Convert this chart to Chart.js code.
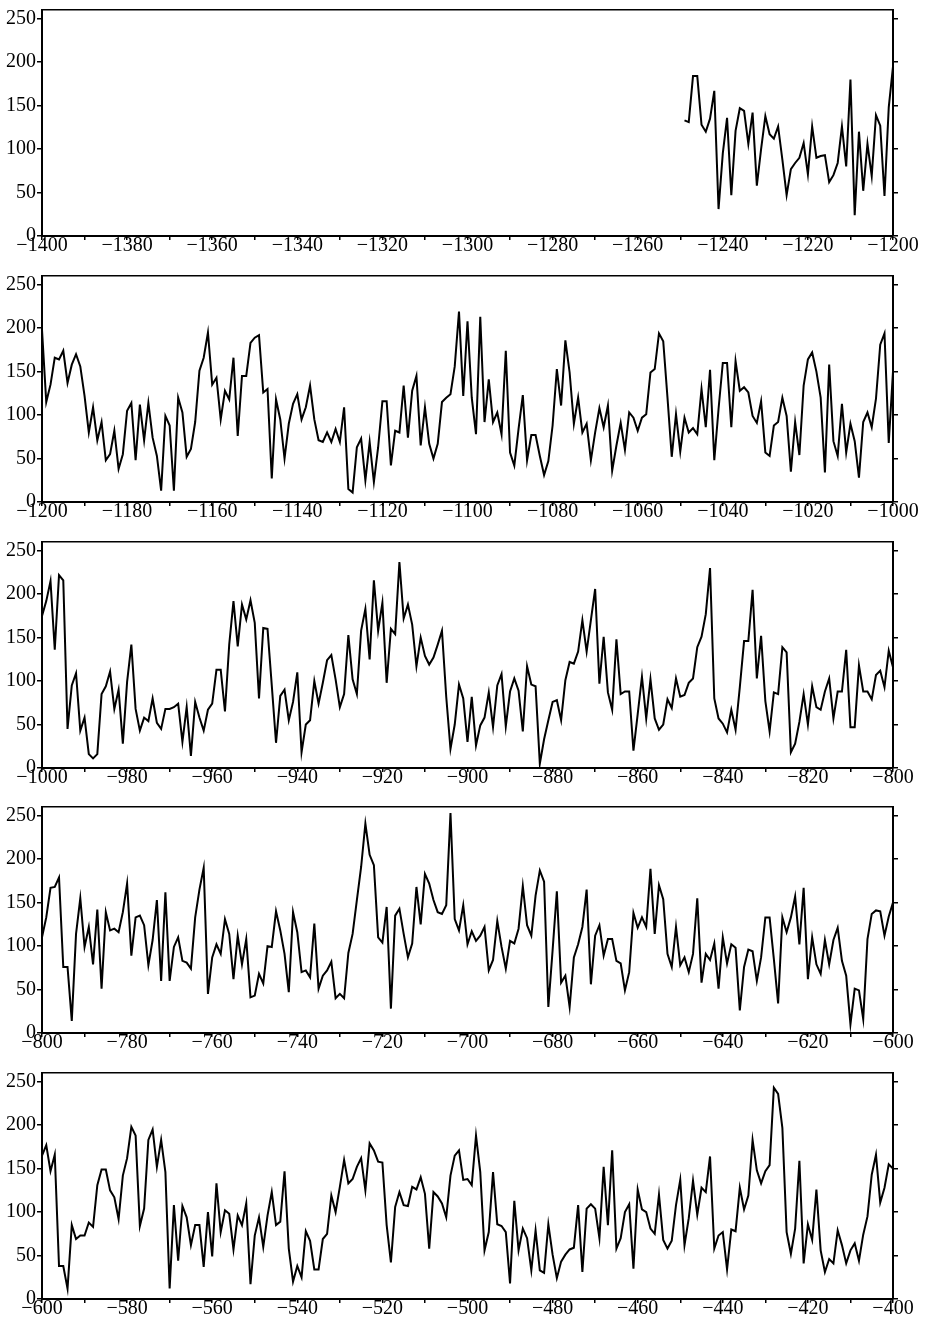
<!DOCTYPE html>
<html>
<head>
<meta charset="utf-8">
<script src="https://cdn.jsdelivr.net/npm/chart.js@4/dist/chart.umd.min.js"></script>
<style>
  html, body { margin: 0; padding: 0; background: #fff; overflow: hidden; }
  #wrap { position: relative; width: 930px; height: 1325px; }
  canvas { position: absolute; left: 0; }
</style>
</head>
<body>
<div id="wrap"></div>
<script>
// each panel covers 200 years; values are read per year off the picture
const panelStarts = [-1400, -1200, -1000, -800, -600];
const firstYears = [-1249, -1200, -1000, -800, -600];
const yMax = 260;
const yStep = 50;
const xStep = 10;
const labelEvery = 20;

const values1 = [
  133, 131, 184, 184, 128, 120, 135, 167, 31, 95,
  136, 47, 121, 147, 144, 106, 142, 58, 100, 138,
  117, 112, 126, 88, 47, 77, 84, 90, 107, 71,
  126, 90, 92, 93, 62, 70, 84, 126, 80, 180,
  24, 120, 52, 106, 69, 139, 127, 46, 148, 195
];

const values2 = [
  198, 115, 135, 166, 164, 174, 137, 158, 170, 156,
  122, 80, 109, 71, 92, 48, 55, 82, 38, 55,
  105, 114, 48, 112, 71, 114, 74, 53, 13, 99,
  88, 13, 120, 103, 52, 61, 92, 151, 166, 195,
  135, 143, 95, 128, 118, 166, 76, 145, 145, 183,
  189, 192, 126, 130, 27, 118, 95, 50, 90, 113,
  124, 95, 109, 134, 95, 71, 69, 80, 69, 84,
  69, 109, 15, 11, 63, 73, 25, 69, 23, 63,
  116, 116, 42, 82, 80, 134, 74, 128, 145, 65,
  109, 67, 50, 67, 115, 120, 124, 156, 219, 122,
  208, 120, 78, 213, 92, 141, 92, 103, 78, 174,
  57, 42, 84, 123, 48, 77, 77, 53, 31, 47,
  88, 153, 111, 186, 149, 90, 120, 80, 90, 48,
  80, 108, 86, 111, 36, 65, 91, 60, 103, 97,
  82, 97, 101, 149, 153, 194, 185, 120, 52, 101,
  58, 97, 80, 85, 78, 130, 86, 152, 48, 107,
  160, 160, 86, 162, 128, 132, 126, 99, 91, 116,
  57, 53, 88, 92, 120, 99, 35, 92, 54, 134,
  164, 172, 150, 120, 34, 158, 70, 53, 113, 57,
  90, 70, 28, 92, 103, 86, 119, 181, 194, 68,
  150
];

const values3 = [
  175, 192, 215, 136, 222, 216, 45, 95, 109, 43,
  58, 16, 11, 16, 85, 94, 111, 68, 90, 28,
  99, 142, 68, 43, 58, 54, 80, 52, 45, 68,
  68, 70, 74, 30, 70, 14, 76, 58, 43, 67,
  74, 113, 113, 65, 142, 192, 140, 188, 171, 193,
  167, 80, 161, 160, 95, 29, 83, 90, 55, 76,
  110, 18, 50, 55, 100, 74, 98, 124, 130, 102,
  70, 85, 153, 102, 85, 158, 183, 125, 216, 158,
  190, 98, 160, 154, 237, 172, 188, 165, 117, 150,
  129, 119, 127, 142, 158, 82, 22, 50, 96, 80,
  30, 82, 26, 49, 58, 87, 47, 95, 108, 48,
  88, 103, 89, 42, 117, 96, 94, 5, 33, 55,
  76, 78, 55, 101, 122, 120, 134, 170, 134, 170,
  206, 97, 151, 87, 67, 148, 85, 88, 88, 20,
  62, 105, 57, 102, 57, 44, 50, 79, 69, 103,
  82, 84, 98, 103, 139, 151, 177, 230, 80, 57,
  51, 41, 67, 44, 93, 146, 146, 205, 103, 152,
  77, 42, 87, 85, 139, 133, 18, 28, 53, 85,
  50, 94, 70, 67, 88, 103, 57, 88, 88, 136,
  47, 47, 118, 88, 88, 79, 107, 112, 93, 135,
  116
];

const values4 = [
  110, 133, 167, 168, 179, 76, 76, 14, 114, 155,
  99, 122, 79, 142, 51, 139, 118, 120, 116, 139,
  172, 89, 133, 135, 124, 78, 107, 153, 60, 162,
  60, 99, 110, 83, 81, 74, 133, 165, 190, 45,
  87, 102, 91, 131, 114, 62, 112, 79, 108, 41,
  43, 68, 57, 100, 99, 140, 118, 91, 47, 139,
  116, 70, 72, 64, 126, 51, 66, 72, 82, 40,
  45, 40, 92, 114, 153, 191, 241, 205, 193, 110,
  104, 145, 28, 135, 143, 114, 87, 103, 168, 125,
  183, 172, 153, 139, 137, 147, 253, 131, 118, 147,
  102, 117, 106, 112, 122, 72, 84, 129, 99, 74,
  106, 103, 120, 169, 124, 112, 158, 187, 174, 30,
  95, 163, 58, 66, 30, 87, 102, 122, 165, 56,
  112, 124, 89, 108, 108, 83, 80, 49, 70, 138,
  121, 133, 122, 189, 114, 170, 154, 91, 76, 122,
  78, 87, 70, 91, 155, 58, 91, 84, 103, 51,
  110, 80, 102, 98, 26, 76, 96, 94, 60, 87,
  133, 133, 85, 34, 133, 116, 133, 157, 102, 167,
  62, 110, 79, 68, 107, 79, 107, 121, 83, 66,
  10, 51, 49, 16, 108, 137, 141, 140, 112, 134,
  150
];

const values5 = [
  165, 177, 147, 166, 38, 38, 12, 85, 69, 73,
  73, 88, 83, 131, 149, 149, 125, 117, 92, 142,
  162, 198, 188, 84, 104, 183, 195, 152, 183, 146,
  12, 108, 44, 107, 94, 62, 85, 85, 37, 100,
  49, 133, 77, 102, 98, 57, 96, 85, 110, 17,
  73, 94, 60, 96, 123, 85, 89, 147, 58, 20,
  38, 25, 78, 67, 34, 34, 69, 75, 119, 100,
  129, 160, 133, 138, 152, 162, 125, 179, 171, 158,
  157, 85, 42, 106, 123, 108, 107, 129, 126, 140,
  121, 58, 123, 118, 110, 94, 142, 165, 171, 137,
  138, 131, 188, 146, 56, 77, 146, 86, 84, 77,
  18, 113, 56, 81, 70, 33, 79, 33, 30, 86,
  51, 24, 43, 51, 57, 59, 108, 31, 104, 109,
  104, 70, 152, 85, 171, 58, 70, 100, 109, 35,
  126, 103, 100, 81, 75, 120, 68, 58, 67, 108,
  137, 62, 93, 136, 97, 128, 123, 164, 58, 73,
  77, 34, 80, 78, 128, 103, 119, 183, 148, 133,
  147, 154, 243, 236, 197, 77, 52, 81, 159, 41,
  86, 68, 126, 56, 31, 46, 41, 79, 62, 41,
  56, 64, 44, 74, 95, 143, 166, 111, 128, 155,
  150
];

const allValues = [values1, values2, values3, values4, values5];

// layout: top of each plot box in the page
const areaTops = [10, 276, 542, 807, 1073];
const areaHeight = 226;
const padTop = 6;
const xAxisHeight = 26;

const tickFont = { family: 'Liberation Serif', size: 20 };

function fmtYear(v) {
  return v < 0 ? '\u2212' + Math.abs(v) : String(v);
}

// fixed axis sizes, and no extra room asked for by the tick labels
function fixSize(w, h) {
  return s => {
    if (w !== null) s.width = w;
    if (h !== null) s.height = h;
    s.paddingTop = 0;
    s.paddingBottom = 0;
    s.paddingLeft = 0;
    s.paddingRight = 0;
  };
}

function makePanel(i) {
  const canvas = document.createElement('canvas');
  canvas.width = 930;
  canvas.height = padTop + areaHeight + xAxisHeight;
  canvas.style.top = (areaTops[i] - padTop) + 'px';
  document.getElementById('wrap').appendChild(canvas);

  const xMin = panelStarts[i];
  const points = allValues[i].map((v, k) => ({ x: firstYears[i] + k, y: v }));

  new Chart(canvas.getContext('2d'), {
    type: 'line',
    data: {
      datasets: [{
        data: points,
        borderColor: '#000',
        borderWidth: 2,
        pointRadius: 0,
        tension: 0,
        fill: false
      }]
    },
    options: {
      responsive: false,
      animation: false,
      devicePixelRatio: 1,
      layout: { padding: { top: padTop, left: 0, right: 0, bottom: 0 } },
      plugins: { legend: { display: false }, tooltip: { enabled: false } },
      scales: {
        x: {
          type: 'linear', position: 'bottom', min: xMin, max: xMin + 200,
          afterFit: fixSize(null, xAxisHeight),
          ticks: {
            stepSize: xStep, autoSkip: false, maxRotation: 0, padding: -6,
            color: '#000', font: tickFont,
            callback: v => (v % labelEvery === 0 ? fmtYear(v) : '')
          },
          grid: { drawOnChartArea: false, drawTicks: true, tickLength: 4, color: '#000', lineWidth: 1.5 },
          border: { color: '#000', width: 2 }
        },
        xTop: {
          type: 'linear', position: 'top', min: xMin, max: xMin + 200,
          afterFit: fixSize(null, 0),
          ticks: { display: false },
          grid: { display: false },
          border: { color: '#000', width: 1.5 }
        },
        y: {
          position: 'left', min: 0, max: yMax,
          afterFit: fixSize(42, null),
          ticks: { stepSize: yStep, includeBounds: false, padding: 1, color: '#000', font: tickFont },
          grid: { drawOnChartArea: false, tickLength: 5, color: '#000', lineWidth: 1.5 },
          border: { color: '#000', width: 2 }
        },
        yRight: {
          position: 'right', min: 0, max: yMax,
          afterFit: fixSize(37, null),
          ticks: { stepSize: yStep, includeBounds: false, display: false },
          grid: { drawOnChartArea: false, tickLength: 5, color: '#000', lineWidth: 1.5 },
          border: { color: '#000', width: 2 }
        }
      }
    }
  });
}

for (let i = 0; i < 5; i++) makePanel(i);
</script>
</body>
</html>
